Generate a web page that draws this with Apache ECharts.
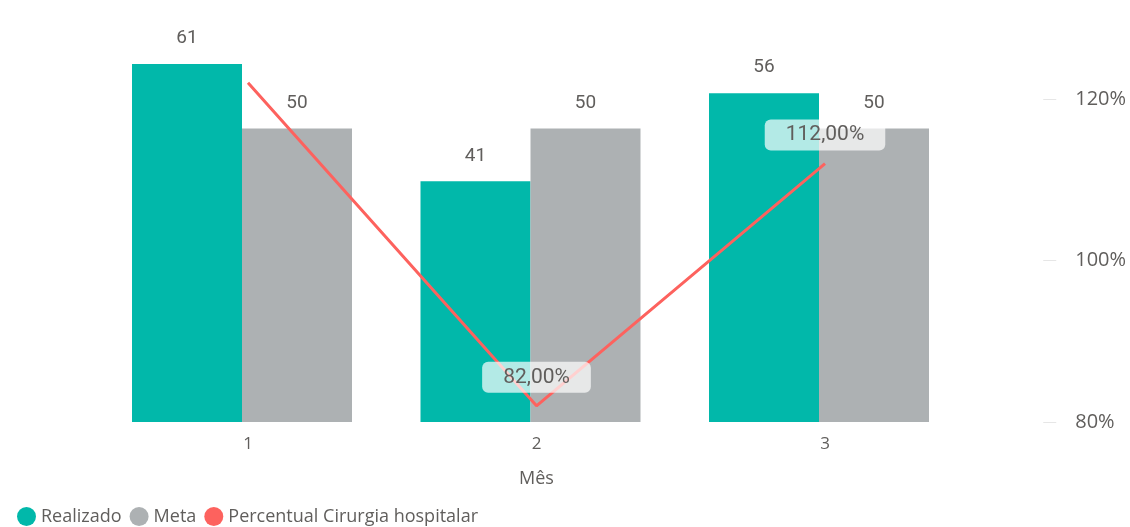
<!DOCTYPE html>
<html><head><meta charset="utf-8">
<script src="https://cdn.jsdelivr.net/npm/echarts@6/dist/echarts.min.js"></script>
<style>html,body{margin:0;padding:0;background:#fff}#c{width:1130px;height:527px}</style>
</head><body><div id="c"></div>
<script>
const categories = ['1', '2', '3'];
const realizado = [61, 41, 56];
const meta = [50, 50, 50];
const percentual = [122, 82, 112];
const pctTicks = [80, 100, 120];
const showPctLabel = [false, true, true];

const chart = echarts.init(document.getElementById('c'), null, {renderer: 'canvas'});
const txt = '#605E5C';
const fontMain = 'Roboto, "DejaVu Sans", sans-serif';
const fontUI = '"Open Sans", "Noto Sans", sans-serif';
const pctFmt = v => v.toFixed(2).replace('.', ',') + '%';

chart.setOption({
  animation: false,
  backgroundColor: '#fff',
  grid: [
    {left: 97.75, right: 166.75, top: 40, bottom: 105},
    {left: 103.75, right: 160.75, top: 40, bottom: 105}
  ],
  legend: {
    left: 17, top: 507, padding: 0, itemGap: 8, itemWidth: 19, itemHeight: 19,
    icon: 'circle',
    textStyle: {color: txt, fontSize: 18, fontFamily: fontUI, padding: [0, 0, 0, 0]},
    data: ['Realizado', 'Meta', 'Percentual Cirurgia hospitalar']
  },
  xAxis: [
    {type: 'category', gridIndex: 0, data: categories, axisLine: {show: false}, axisTick: {show: false}, axisLabel: {show: false}},
    {type: 'category', gridIndex: 1, data: categories, axisLine: {show: false}, axisTick: {show: false},
     axisLabel: {color: txt, fontSize: 17, fontFamily: fontUI, margin: 14},
     name: 'Mês', nameLocation: 'middle', nameGap: 48,
     nameTextStyle: {color: txt, fontSize: 18, fontFamily: fontUI}}
  ],
  yAxis: [
    {type: 'value', gridIndex: 0, min: 0, max: 65.07, show: false},
    {type: 'value', gridIndex: 1, position: 'right', min: 80, max: 127.3, offset: 74,
     splitLine: {show: false}, axisLine: {show: false},
     axisTick: {show: true, length: 13, customValues: pctTicks, lineStyle: {color: '#E6E6E6', width: 1}},
     axisLabel: {color: txt, fontSize: 20, fontFamily: fontUI, margin: 32, customValues: pctTicks,
       formatter: v => Math.round(v) + '%'}}
  ],
  series: [
    {name: 'Realizado', type: 'bar', xAxisIndex: 0, yAxisIndex: 0, data: realizado,
     barWidth: 110, barGap: '0%', itemStyle: {color: '#01B8AA'},
     label: {show: true, position: 'top', distance: 16, color: txt, fontSize: 19, fontFamily: fontMain}},
    {name: 'Meta', type: 'bar', xAxisIndex: 0, yAxisIndex: 0, data: meta,
     barWidth: 110, barGap: '0%', itemStyle: {color: '#ADB1B3'},
     label: {show: true, position: 'top', distance: 16, color: txt, fontSize: 19, fontFamily: fontMain}},
    {name: 'Percentual Cirurgia hospitalar', type: 'line', xAxisIndex: 1, yAxisIndex: 1,
     data: percentual.map((v, i) => ({value: v, label: {show: showPctLabel[i]}})),
     showSymbol: true, symbol: 'circle', symbolSize: 0,
     lineStyle: {color: '#FD625E', width: 3}, itemStyle: {color: '#FD625E'},
     label: {show: true, position: 'top', distance: 13, formatter: p => pctFmt(p.value),
       color: txt, fontSize: 21, fontFamily: fontMain,
       backgroundColor: 'rgba(255,255,255,0.7)', borderRadius: 6, padding: [5, 21, 5, 21]},
     z: 5}
  ]
});
</script></body></html>
